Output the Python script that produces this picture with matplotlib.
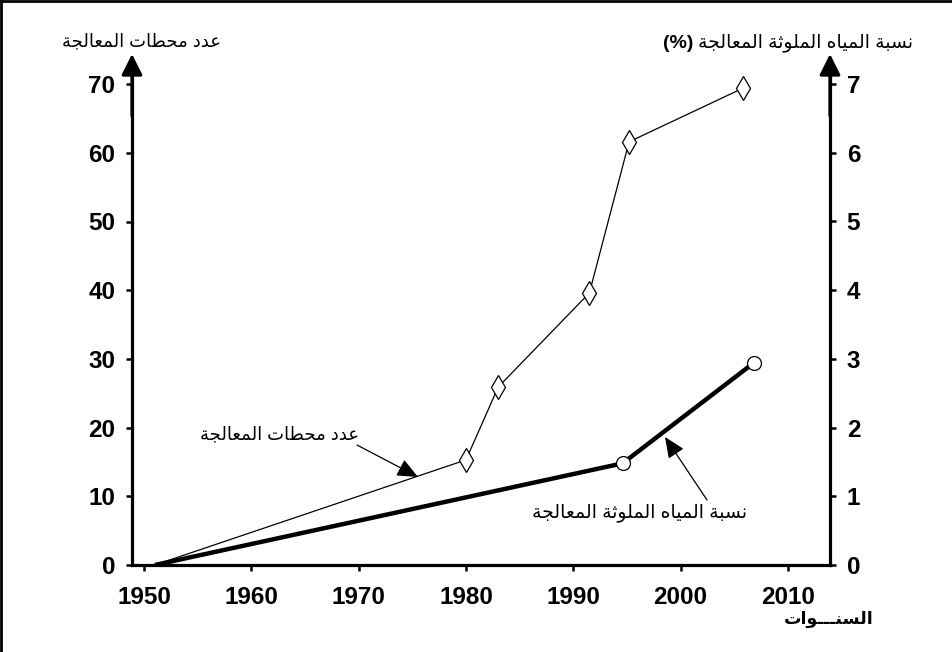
import matplotlib
matplotlib.use("Agg")
import matplotlib.pyplot as plt
from matplotlib.lines import Line2D

# ---------------- data ----------------
plant_years = [1951, 1980.0, 1983.0, 1991.5, 1995.2, 2005.8]
plant_counts = [0, 15.3, 25.9, 39.6, 61.6, 69.4]

pct_years = [1951, 1994.6, 2006.8]
pct_values = [0, 1.48, 2.94]

x_ticks = [1950, 1960, 1970, 1980, 1990, 2000, 2010]
left_ticks = [0, 10, 20, 30, 40, 50, 60, 70]
right_ticks = [0, 1, 2, 3, 4, 5, 6, 7]

left_title = "عدد محطات المعالجة"
right_title = "نسبة المياه الملوثة المعالجة"
right_title_unit = "(%)"
x_title = "السنـــوات"
plant_label = "عدد محطات المعالجة"
pct_label = "نسبة المياه الملوثة المعالجة"

# ---------------- minimal Arabic shaping (visual order) ----------------
FORMS = {
    'ا': ('\uFE8D', '\uFE8E', None, None),
    'ب': ('\uFE8F', '\uFE90', '\uFE91', '\uFE92'),
    'ة': ('\uFE93', '\uFE94', None, None),
    'ت': ('\uFE95', '\uFE96', '\uFE97', '\uFE98'),
    'ث': ('\uFE99', '\uFE9A', '\uFE9B', '\uFE9C'),
    'ج': ('\uFE9D', '\uFE9E', '\uFE9F', '\uFEA0'),
    'ح': ('\uFEA1', '\uFEA2', '\uFEA3', '\uFEA4'),
    'د': ('\uFEA9', '\uFEAA', None, None),
    'س': ('\uFEB1', '\uFEB2', '\uFEB3', '\uFEB4'),
    'ط': ('\uFEC1', '\uFEC2', '\uFEC3', '\uFEC4'),
    'ع': ('\uFEC9', '\uFECA', '\uFECB', '\uFECC'),
    'ل': ('\uFEDD', '\uFEDE', '\uFEDF', '\uFEE0'),
    'م': ('\uFEE1', '\uFEE2', '\uFEE3', '\uFEE4'),
    'ن': ('\uFEE5', '\uFEE6', '\uFEE7', '\uFEE8'),
    'ه': ('\uFEE9', '\uFEEA', '\uFEEB', '\uFEEC'),
    'و': ('\uFEED', '\uFEEE', None, None),
    'ي': ('\uFEF1', '\uFEF2', '\uFEF3', '\uFEF4'),
    'ـ': ('\u0640', '\u0640', '\u0640', '\u0640'),
}


def shape(s):
    def dual(c):
        return c in FORMS and FORMS[c][2] is not None

    out = []
    for i, c in enumerate(s):
        if c not in FORMS:
            out.append(c)
            continue
        prev = s[i - 1] if i > 0 else ''
        nxt = s[i + 1] if i + 1 < len(s) else ''
        jp = dual(prev)
        jn = dual(c) and (nxt in FORMS)
        iso, fin, ini, med = FORMS[c]
        if jp and jn:
            out.append(med)
        elif jp:
            out.append(fin)
        elif jn:
            out.append(ini)
        else:
            out.append(iso)
    return ''.join(reversed(out))


FAM = ['Liberation Sans', 'DejaVu Sans']
plt.rcParams['font.family'] = FAM

W, H = 952, 652
fig = plt.figure(figsize=(W / 100, H / 100), dpi=100)


def fx(px):
    return px / W


def fy(py):
    return 1 - py / H


# axes geometry in pixels
ax_left, ax_right, ax_bottom, ax_top = 132, 830, 565, 66
ax = fig.add_axes([fx(ax_left), fy(ax_bottom), fx(ax_right - ax_left), (ax_bottom - ax_top) / H])
ax2 = ax.twinx()

px_per_year = 10.73
x0 = 1980 - (466 - ax_left) / px_per_year
x1 = 1980 + (ax_right - 466) / px_per_year
ax.set_xlim(x0, x1)
px_per_unit = 6.87
ytop = (ax_bottom - ax_top) / px_per_unit
ax.set_ylim(0, ytop)
ax2.set_ylim(0, ytop / 10)

for a in (ax, ax2):
    a.spines['top'].set_visible(False)
    for s in ('left', 'right', 'bottom'):
        a.spines[s].set_linewidth(2.3)
    a.patch.set_visible(False)

ax.spines['right'].set_visible(False)
ax2.spines['left'].set_visible(False)
ax2.spines['bottom'].set_visible(False)

ax.set_xticks(x_ticks)
ax.set_xticklabels([str(t) for t in x_ticks])
ax.set_yticks(left_ticks)
ax.set_yticklabels([str(t) for t in left_ticks])
ax2.set_yticks(right_ticks)
ax2.set_yticklabels([str(t) for t in right_ticks])

ax.tick_params(axis='x', direction='out', length=4, width=1.8, pad=11)
ax.tick_params(axis='y', direction='out', length=4, width=1.8, pad=8)
ax2.tick_params(axis='y', direction='out', length=4, width=1.8, pad=8)
for lab in ax.get_xticklabels() + ax.get_yticklabels() + ax2.get_yticklabels():
    lab.set_fontsize(17.5)
    lab.set_fontweight('bold')
    lab.set_family('Liberation Sans')

# lines
ax.plot(plant_years, plant_counts, color='black', lw=0.9, zorder=3,
        marker='d', markevery=list(range(1, len(plant_years))), markersize=12,
        markerfacecolor='white', markeredgecolor='black', markeredgewidth=0.9, clip_on=False)
ax2.plot(pct_years, pct_values, color='black', lw=3.2, zorder=3, solid_capstyle='butt',
         marker='o', markevery=list(range(1, len(pct_years))), markersize=10,
         markerfacecolor='white', markeredgecolor='black', markeredgewidth=0.9, clip_on=False)

# axis arrows
tip = (ax_bottom - 54) / (ax_bottom - ax_top)
for xa in (0, 1):
    ax.annotate('', xy=(xa, tip), xytext=(xa, 0.9), xycoords='axes fraction',
                arrowprops=dict(arrowstyle='-|>,head_length=0.9,head_width=0.45', lw=2.3,
                                color='black', shrinkA=0, shrinkB=0, mutation_scale=14))

# axis titles
fig.text(fx(142), fy(42), shape(left_title), ha='center', va='center', fontsize=13, family=FAM)
fig.text(fx(913), fy(43), shape(right_title), ha='right', va='center', fontsize=13.5, family=FAM)
fig.text(fx(693), fy(43), right_title_unit, ha='right', va='center', fontsize=14,
         fontweight='bold', family='Liberation Sans')
fig.text(fx(829), fy(619), shape(x_title), ha='center', va='center', fontsize=12.5,
         fontweight='bold', family=FAM)

# in-plot annotations
def px2data(a, px, py):
    inv = a.transData.inverted()
    return inv.transform((px, H - py))

fig.canvas.draw()
t1 = px2data(ax, 357, 445)
h1 = px2data(ax, 418, 477)
ax.annotate('', xy=h1, xytext=t1,
            arrowprops=dict(arrowstyle='-|>,head_length=0.8,head_width=0.35', lw=0.9,
                            color='black', shrinkA=0, shrinkB=0, mutation_scale=16))
fig.text(fx(280), fy(435), shape(plant_label), ha='center', va='center', fontsize=13, family=FAM)

t2 = px2data(ax, 707, 500)
h2 = px2data(ax, 665, 437)
ax.annotate('', xy=h2, xytext=t2,
            arrowprops=dict(arrowstyle='-|>,head_length=0.8,head_width=0.35', lw=0.9,
                            color='black', shrinkA=0, shrinkB=0, mutation_scale=16))
fig.text(fx(747), fy(513), shape(pct_label), ha='right', va='center', fontsize=13.5, family=FAM)

# figure frame (top and left edges)
fig.add_artist(Line2D([0, 1], [0.999, 0.999], transform=fig.transFigure, color='black', lw=2))
fig.add_artist(Line2D([0.001, 0.001], [0, 1], transform=fig.transFigure, color='black', lw=2))

fig.savefig('out.png', dpi=100)
